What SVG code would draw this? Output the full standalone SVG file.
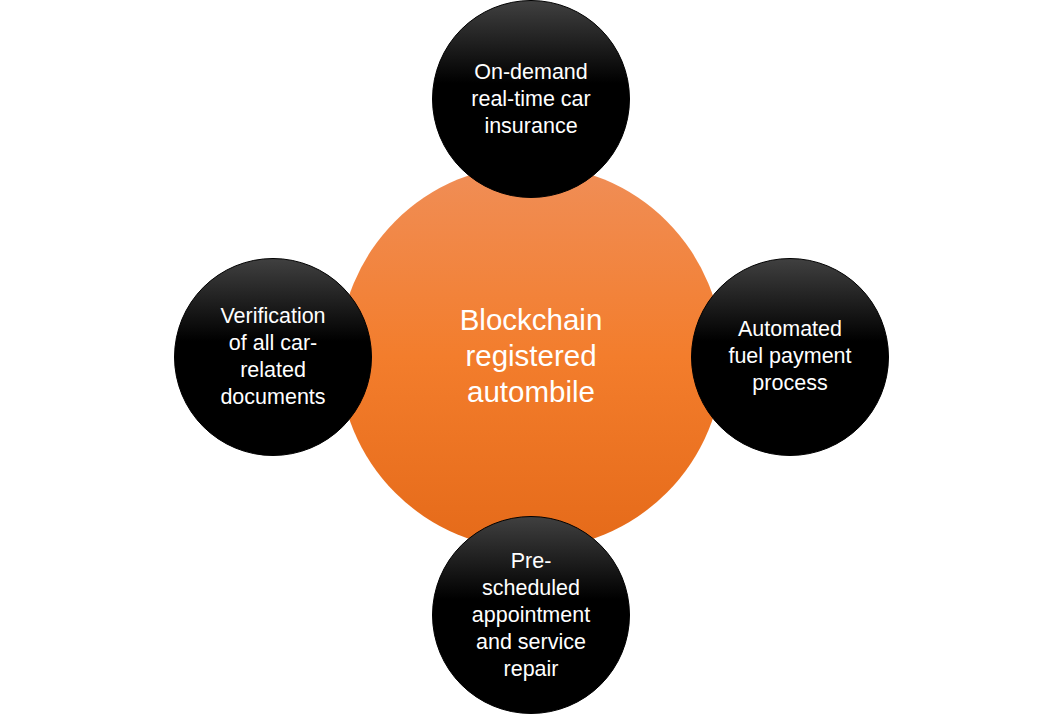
<svg xmlns="http://www.w3.org/2000/svg" width="1062" height="714" viewBox="0 0 1062 714">
  <defs>
    <linearGradient id="gOrange" x1="0" y1="0" x2="0" y2="1">
      <stop offset="0" stop-color="#F08E57"/>
      <stop offset="0.5" stop-color="#F37D2C"/>
      <stop offset="1" stop-color="#E56A19"/>
    </linearGradient>
    <linearGradient id="gBlack" x1="0" y1="0" x2="0" y2="1">
      <stop offset="0" stop-color="#404040"/>
      <stop offset="0.42" stop-color="#000000"/>
      <stop offset="1" stop-color="#000000"/>
    </linearGradient>
    <style>
      .sat { fill: url(#gBlack); stroke: #000; stroke-width: 1; }
      .t { font-family: "Liberation Sans", Arial, sans-serif; fill: #fff; text-anchor: middle; font-size: 21.5px; }
      .tc { font-family: "Liberation Sans", Arial, sans-serif; fill: #fff; text-anchor: middle; font-size: 29.5px; }
    </style>
  </defs>
  <rect width="1062" height="714" fill="#fff"/>
  <g id="connectors"></g>
  <g id="center">
    <circle cx="531" cy="357" r="192" fill="url(#gOrange)"/>
    <text class="tc" x="531" y="330">Blockchain</text>
    <text class="tc" x="531" y="366">registered</text>
    <text class="tc" x="531" y="402">autombile</text>
  </g>
  <g id="top">
    <circle class="sat" cx="531" cy="99" r="98.5"/>
    <text class="t" x="531" y="79">On-demand</text>
    <text class="t" x="531" y="106">real-time car</text>
    <text class="t" x="531" y="133">insurance</text>
  </g>
  <g id="right">
    <circle class="sat" cx="790" cy="357" r="98.5"/>
    <text class="t" x="790" y="336">Automated</text>
    <text class="t" x="790" y="363">fuel payment</text>
    <text class="t" x="790" y="390">process</text>
  </g>
  <g id="left">
    <circle class="sat" cx="273" cy="357" r="98.5"/>
    <text class="t" x="273" y="323">Verification</text>
    <text class="t" x="273" y="350">of all car-</text>
    <text class="t" x="273" y="377">related</text>
    <text class="t" x="273" y="404">documents</text>
  </g>
  <g id="bottom">
    <circle class="sat" cx="531" cy="615" r="98.5"/>
    <text class="t" x="531" y="568">Pre-</text>
    <text class="t" x="531" y="595">scheduled</text>
    <text class="t" x="531" y="622">appointment</text>
    <text class="t" x="531" y="649">and service</text>
    <text class="t" x="531" y="676">repair</text>
  </g>
</svg>
